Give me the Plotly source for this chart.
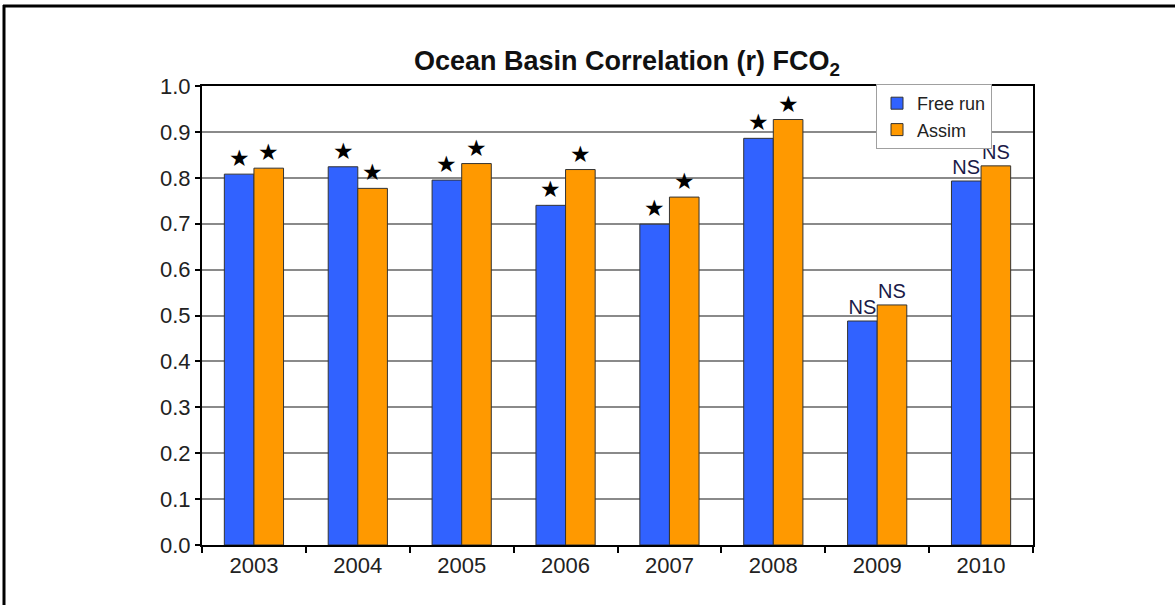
import plotly.graph_objects as go

years = ["2003", "2004", "2005", "2006", "2007", "2008", "2009", "2010"]
free_run = [0.808, 0.824, 0.795, 0.740, 0.699, 0.886, 0.488, 0.793]
assim = [0.821, 0.777, 0.831, 0.818, 0.758, 0.927, 0.523, 0.826]
free_sig = ["*", "*", "*", "*", "*", "*", "NS", "NS"]
assim_sig = ["*", "*", "*", "*", "*", "*", "NS", "NS"]
y_ticks = [0.0, 0.1, 0.2, 0.3, 0.4, 0.5, 0.6, 0.7, 0.8, 0.9, 1.0]

W, H = 1175, 605
L, R, T, B = 202, 1033, 86, 545


def lab(s):
    return "★" if s == "*" else s


def sizes(sig):
    return [23 if s == "*" else 20 for s in sig]


def colors(sig):
    return ["#000000" if s == "*" else "#1a1a48" for s in sig]


def px(x):
    return (x - L) / (R - L)


def py(y):
    return (B - y) / (B - T)


fig = go.Figure()
fig.add_trace(go.Bar(
    name="Free run", x=years, y=free_run,
    marker=dict(color="#3162FF", line=dict(color="#333333", width=1)),
    text=[lab(s) for s in free_sig], textposition="outside",
    textfont=dict(size=sizes(free_sig), color=colors(free_sig), family="Liberation Sans, Arial"),
    cliponaxis=False,
))
fig.add_trace(go.Bar(
    name="Assim", x=years, y=assim,
    marker=dict(color="#FF9900", line=dict(color="#333333", width=1)),
    text=[lab(s) for s in assim_sig], textposition="outside",
    textfont=dict(size=sizes(assim_sig), color=colors(assim_sig), family="Liberation Sans, Arial"),
    cliponaxis=False,
))

fig.update_layout(
    width=W, height=H,
    margin=dict(l=L, r=W - R, t=T, b=H - B, pad=0),
    paper_bgcolor="white", plot_bgcolor="white",
    barmode="group", bargap=0.43, bargroupgap=0,
    font=dict(family="Liberation Sans, Arial", color="#222222", size=20),
    showlegend=True,
    uniformtext=dict(mode=False),
    title=dict(
        text="<b>Ocean Basin Correlation (r) FCO<sub>2</sub></b>",
        x=627 / W, xanchor="center", xref="container",
        y=1 - 61 / H, yanchor="middle", yref="container",
        font=dict(size=27, color="#111111", family="Liberation Sans, Arial"),
    ),
    legend=dict(
        x=px(876), y=py(84), xanchor="left", yanchor="top",
        bgcolor="white", bordercolor="#A0A0A0", borderwidth=1,
        font=dict(size=18, color="#222222"),
        itemwidth=30, tracegroupgap=0,
    ),
    xaxis=dict(
        showline=True, linecolor="black", linewidth=2, mirror=True,
        ticks="outside", tickson="boundaries", ticklen=6, tickcolor="black", tickwidth=1.5,
        showgrid=False, tickfont=dict(size=22, color="#222222"),
    ),
    yaxis=dict(
        range=[0, 1.0], tickvals=y_ticks, ticktext=[f"{v:.1f}" for v in y_ticks],
        showline=True, linecolor="black", linewidth=2, mirror=True,
        ticks="outside", ticklen=5, tickcolor="black", tickwidth=1.5,
        showgrid=True, gridcolor="#8a8a8a", gridwidth=1.5,
        tickfont=dict(size=22, color="#222222"), zeroline=False,
    ),
    shapes=[
        dict(type="line", xref="paper", yref="paper",
             x0=px(4), x1=px(4), y0=py(5), y1=py(H), line=dict(color="black", width=3)),
        dict(type="line", xref="paper", yref="paper",
             x0=px(3), x1=px(W), y0=py(6), y1=py(6), line=dict(color="black", width=3)),
    ],
)

fig.write_html("out.html", config={"displayModeBar": False},
               post_script="document.body.style.margin='0px';")
